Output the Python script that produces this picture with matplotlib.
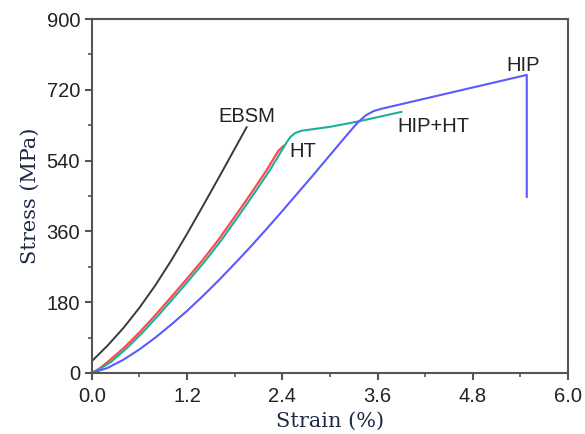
import matplotlib.pyplot as plt
from matplotlib.ticker import MultipleLocator

# strain (%) / stress (MPa)
ebsm_strain = [0.0, 0.2, 0.4, 0.6, 0.8, 1.0, 1.2, 1.4, 1.6, 1.8, 1.95]
ebsm_stress = [30, 70, 115, 166, 223, 286, 354, 425, 497, 570, 625]

ht_strain = [0.0, 0.1, 0.2, 0.4, 0.6, 0.8, 1.0, 1.2, 1.4, 1.6, 1.8, 2.0, 2.2,
             2.35, 2.42]
ht_stress = [0, 12, 28, 63, 103, 147, 193, 240, 288, 340, 397, 455, 515,
             565, 578]

hipht_strain = [0.0, 0.1, 0.24, 0.44, 0.64, 0.84, 1.04, 1.24, 1.44, 1.64, 1.84,
                2.04, 2.24, 2.39, 2.45, 2.5, 2.56, 2.64, 3.0, 3.34, 3.9]
hipht_stress = [0, 10, 28, 63, 103, 147, 193, 240, 288, 340, 397,
                455, 515, 565, 585, 600, 610, 616, 626, 639, 664]

hip_strain = [0.0, 0.2, 0.4, 0.6, 0.8, 1.0, 1.2, 1.4, 1.6, 1.8, 2.0, 2.2, 2.4,
              2.6, 2.8, 3.0, 3.2, 3.35, 3.45, 3.55, 3.65, 5.48, 5.48]
hip_stress = [0, 13, 34, 60, 90, 123, 158, 196, 236, 278, 321, 366, 412,
              459, 506, 554, 602, 637, 655, 666, 672, 758, 448]

x_ticks = [0.0, 1.2, 2.4, 3.6, 4.8, 6.0]
y_ticks = [0, 180, 360, 540, 720, 900]


def main():
    fig = plt.figure(figsize=(5.85, 4.34), dpi=100)
    ax = fig.add_axes([0.157, 0.1406, 0.814, 0.8154])

    ax.plot(ebsm_strain, ebsm_stress, color="#3a3a3a", lw=1.4)
    ax.plot(ht_strain, ht_stress, color="#ff4a4a", lw=1.6)
    ax.plot(hipht_strain, hipht_stress, color="#20ad9c", lw=1.5)
    ax.plot(hip_strain, hip_stress, color="#5a5aff", lw=1.5)

    lab = dict(fontsize=14.5, family="Liberation Sans", color="#222222")
    ax.text(1.95, 652, "EBSM", ha="center", va="center", **lab)
    ax.text(2.66, 563, "HT", ha="center", va="center", **lab)
    ax.text(4.30, 626, "HIP+HT", ha="center", va="center", **lab)
    ax.text(5.44, 783, "HIP", ha="center", va="center", **lab)

    ax.set_xlim(0, 6.0)
    ax.set_ylim(0, 900)
    ax.set_xticks(x_ticks)
    ax.set_yticks(y_ticks)
    ax.set_xticklabels([f"{v:.1f}" for v in x_ticks])
    ax.set_yticklabels([str(v) for v in y_ticks])
    ax.xaxis.set_minor_locator(MultipleLocator(0.6))
    ax.yaxis.set_minor_locator(MultipleLocator(90))

    for s in ax.spines.values():
        s.set_color("#555555")
        s.set_linewidth(1.5)
    ax.tick_params(which="major", direction="out", length=5, width=1.5,
                   color="#555555", labelsize=14.5, top=False, right=False)
    ax.tick_params(axis="x", which="major", pad=5)
    ax.tick_params(which="minor", direction="out", length=3, width=1.2,
                   color="#555555", top=False, right=False)
    for t in ax.get_xticklabels() + ax.get_yticklabels():
        t.set_family("Liberation Sans")
        t.set_color("#222222")

    ax.set_xlabel("Strain (%)", family="DejaVu Serif", fontsize=15,
                  color="#1c2a44", labelpad=4)
    ax.set_ylabel("Stress (MPa)", family="DejaVu Serif", fontsize=15,
                  color="#1c2a44", labelpad=5)

    fig.savefig("out.png", dpi=100)


if __name__ == "__main__":
    main()
